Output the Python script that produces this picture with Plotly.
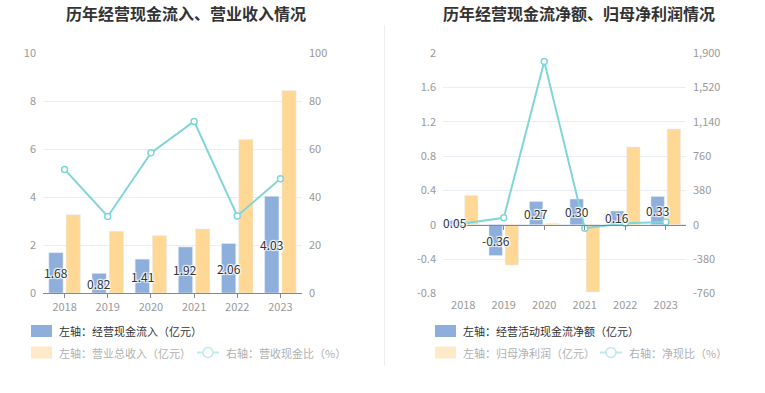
import plotly.graph_objects as go

years = ["2018", "2019", "2020", "2021", "2022", "2023"]

# Left chart
cash_inflow = [1.68, 0.82, 1.41, 1.92, 2.06, 4.03]          # 亿元
revenue = [3.26, 2.57, 2.39, 2.67, 6.40, 8.44]               # 亿元
cash_ratio = [51.5, 31.9, 58.4, 71.5, 32.1, 47.6]            # %

# Right chart
net_cash = [0.05, -0.36, 0.27, 0.30, 0.16, 0.33]             # 亿元
net_profit = [0.34, -0.47, 0.015, -0.785, 0.907, 1.117]      # 亿元
net_ratio = [14.7, 76.6, 1810, -38.2, 17.6, 29.5]            # %

left_ticks = [0, 2, 4, 6, 8, 10]
left_ticks_r = [0, 20, 40, 60, 80, 100]
right_ticks = [-0.8, -0.4, 0, 0.4, 0.8, 1.2, 1.6, 2]
right_ticks_r = [-760, -380, 0, 380, 760, 1140, 1520, 1900]

BLUE = "#8eaedb"
ORANGE = "#ffd896"
TEAL = "#80d5d9"
GRID = "#e9edf5"
TICKC = "#999999"
FONT = "Noto Sans CJK SC"
W, H = 765, 393

BW = 0.33
OFF_BLUE = -0.365
OFF_ORANGE = 0.035

# plot-area screen coordinates
L1, R1 = 43, 302
L2, R2 = 443, 686
TOP, BOT = 53, 293


def px(x):
    return x / W


def py(y):
    return 1 - y / H


shadow = "1px 1px 1px #fff, -1px -1px 1px #fff, 1px -1px 1px #fff, -1px 1px 1px #fff"
label_font = dict(color="#333333", size=12, family=FONT, shadow=shadow)

fig = go.Figure()


def fmt(v):
    return f"{v:.2f}"


# Left chart traces
fig.add_trace(go.Bar(x=years, y=revenue, marker_color=ORANGE, xaxis="x", yaxis="y",
                     width=BW, offset=OFF_ORANGE, showlegend=False))
fig.add_trace(go.Bar(x=years, y=cash_inflow, marker_color=BLUE, xaxis="x", yaxis="y",
                     width=BW, offset=OFF_BLUE, showlegend=False))
fig.add_trace(go.Scatter(x=years, y=cash_ratio, xaxis="x", yaxis="y2", mode="lines+markers",
                         line=dict(color=TEAL, width=2),
                         marker=dict(symbol="circle", size=6, color="white",
                                     line=dict(color=TEAL, width=1.5)),
                         showlegend=False))

# Right chart traces
fig.add_trace(go.Bar(x=years, y=net_profit, marker_color=ORANGE, xaxis="x2", yaxis="y3",
                     width=BW, offset=OFF_ORANGE, showlegend=False))
fig.add_trace(go.Bar(x=years, y=net_cash, marker_color=BLUE, xaxis="x2", yaxis="y3",
                     width=BW, offset=OFF_BLUE, showlegend=False))
fig.add_trace(go.Scatter(x=years, y=net_ratio, xaxis="x2", yaxis="y4", mode="lines+markers",
                         line=dict(color=TEAL, width=2),
                         marker=dict(symbol="circle", size=6, color="white",
                                     line=dict(color=TEAL, width=1.5)),
                         showlegend=False))

# Data labels centred in the blue bars, drawn above everything
cat1 = (R1 - L1) / len(years)
cat2 = (R2 - L2) / len(years)
for i, v in enumerate(cash_inflow):
    fig.add_annotation(x=i, y=v / 2, xref="x", yref="y", text=fmt(v), showarrow=False,
                       xshift=(OFF_BLUE + BW / 2) * cat1, font=label_font)
for i, v in enumerate(net_cash):
    fig.add_annotation(x=i, y=v / 2, xref="x2", yref="y3", text=fmt(v), showarrow=False,
                       xshift=(OFF_BLUE + BW / 2) * cat2, font=label_font)

tickfont = dict(color=TICKC, size=11, family=FONT)
xr = [-0.5, len(years) - 0.5]

fig.update_layout(
    width=W, height=H,
    margin=dict(l=0, r=0, t=0, b=0, pad=0),
    paper_bgcolor="white", plot_bgcolor="white",
    font=dict(family=FONT),
    barmode="overlay",
    xaxis=dict(domain=[px(L1), px(R1)], anchor="y", showgrid=False, automargin=False,
               showline=True, linecolor="#888888", linewidth=1, range=xr,
               ticks="outside", ticklen=4, tickcolor="#888888",
               tickfont=tickfont, type="category"),
    yaxis=dict(domain=[py(BOT), py(TOP)], range=[0, 10], tickvals=left_ticks,
               ticktext=[str(v) for v in left_ticks], automargin=False,
               gridcolor=GRID, zeroline=False, showline=False,
               tickfont=tickfont, ticklabelstandoff=6),
    yaxis2=dict(overlaying="y", side="right", range=[0, 100], tickvals=left_ticks_r,
                ticktext=[str(v) for v in left_ticks_r], showgrid=False, zeroline=False,
                tickfont=tickfont, ticklabelstandoff=6, anchor="x", automargin=False),
    xaxis2=dict(domain=[px(L2), px(R2)], anchor="free", position=py(225),
                showgrid=False, showline=True, linecolor="#888888", linewidth=1, range=xr,
                ticks="outside", ticklen=4, tickcolor="#888888",
                ticklabelstandoff=66, automargin=False,
                tickfont=tickfont, type="category"),
    yaxis3=dict(domain=[py(BOT + 0.3), py(TOP + 0.3)], range=[-0.8, 2], tickvals=right_ticks,
                ticktext=[f"{v:g}" for v in right_ticks], anchor="x2", automargin=False,
                gridcolor=GRID, zeroline=False, showline=False,
                tickfont=tickfont, ticklabelstandoff=6),
    yaxis4=dict(overlaying="y3", side="right", range=[-760, 1900], tickvals=right_ticks_r,
                ticktext=[f"{v:,}" for v in right_ticks_r], showgrid=False, zeroline=False,
                tickfont=tickfont, ticklabelstandoff=6, anchor="x2", automargin=False),
)

# Titles
fig.add_annotation(text="<b>历年经营现金流入、营业收入情况</b>", x=px(185.5), y=py(13),
                   xref="paper", yref="paper", showarrow=False,
                   font=dict(size=16, color="#333333", family=FONT), xanchor="center", yanchor="middle")
fig.add_annotation(text="<b>历年经营现金流净额、归母净利润情况</b>", x=px(579), y=py(13),
                   xref="paper", yref="paper", showarrow=False,
                   font=dict(size=16, color="#333333", family=FONT), xanchor="center", yanchor="middle")

# Separator
fig.add_shape(type="line", xref="paper", yref="paper", x0=px(384.5), x1=px(384.5),
              y0=py(25), y1=py(366), line=dict(color="#eeeeee", width=1))


# Legends (manual)
def rect_legend(x0, yc, color, text, tcolor):
    fig.add_shape(type="rect", xref="paper", yref="paper", x0=px(x0), x1=px(x0 + 21),
                  y0=py(yc + 6), y1=py(yc - 6), fillcolor=color, line=dict(width=0),
                  layer="above")
    fig.add_annotation(text=text, x=px(x0 + 26), y=py(yc), xref="paper", yref="paper",
                       showarrow=False, xanchor="left", yanchor="middle",
                       font=dict(size=11, color=tcolor, family=FONT))


def line_legend(x0, yc, text):
    fig.add_shape(type="line", xref="paper", yref="paper", x0=px(x0), x1=px(x0 + 22),
                  y0=py(yc), y1=py(yc), line=dict(color="#bfe9eb", width=2))
    fig.add_shape(type="circle", xref="paper", yref="paper", x0=px(x0 + 6), x1=px(x0 + 16),
                  y0=py(yc + 5), y1=py(yc - 5), fillcolor="white",
                  line=dict(color="#bfe9eb", width=1.5))
    fig.add_annotation(text=text, x=px(x0 + 27), y=py(yc), xref="paper", yref="paper",
                       showarrow=False, xanchor="left", yanchor="middle",
                       font=dict(size=11, color="#b0b0b0", family=FONT))


rect_legend(31, 331, BLUE, "左轴：经营现金流入（亿元）", "#333333")
rect_legend(31, 352.5, "#fee9c8", "左轴：营业总收入（亿元）", "#b0b0b0")
line_legend(197, 352.5, "右轴：营收现金比（%）")

rect_legend(435, 331, BLUE, "左轴：经营活动现金流净额（亿元）", "#333333")
rect_legend(435, 352.5, "#fee9c8", "左轴：归母净利润（亿元）", "#b0b0b0")
line_legend(600, 352.5, "右轴：净现比（%）")

fig.write_html("out.html", config={"displayModeBar": False},
               post_script="document.body.style.margin='0';document.body.style.overflow='hidden';")
